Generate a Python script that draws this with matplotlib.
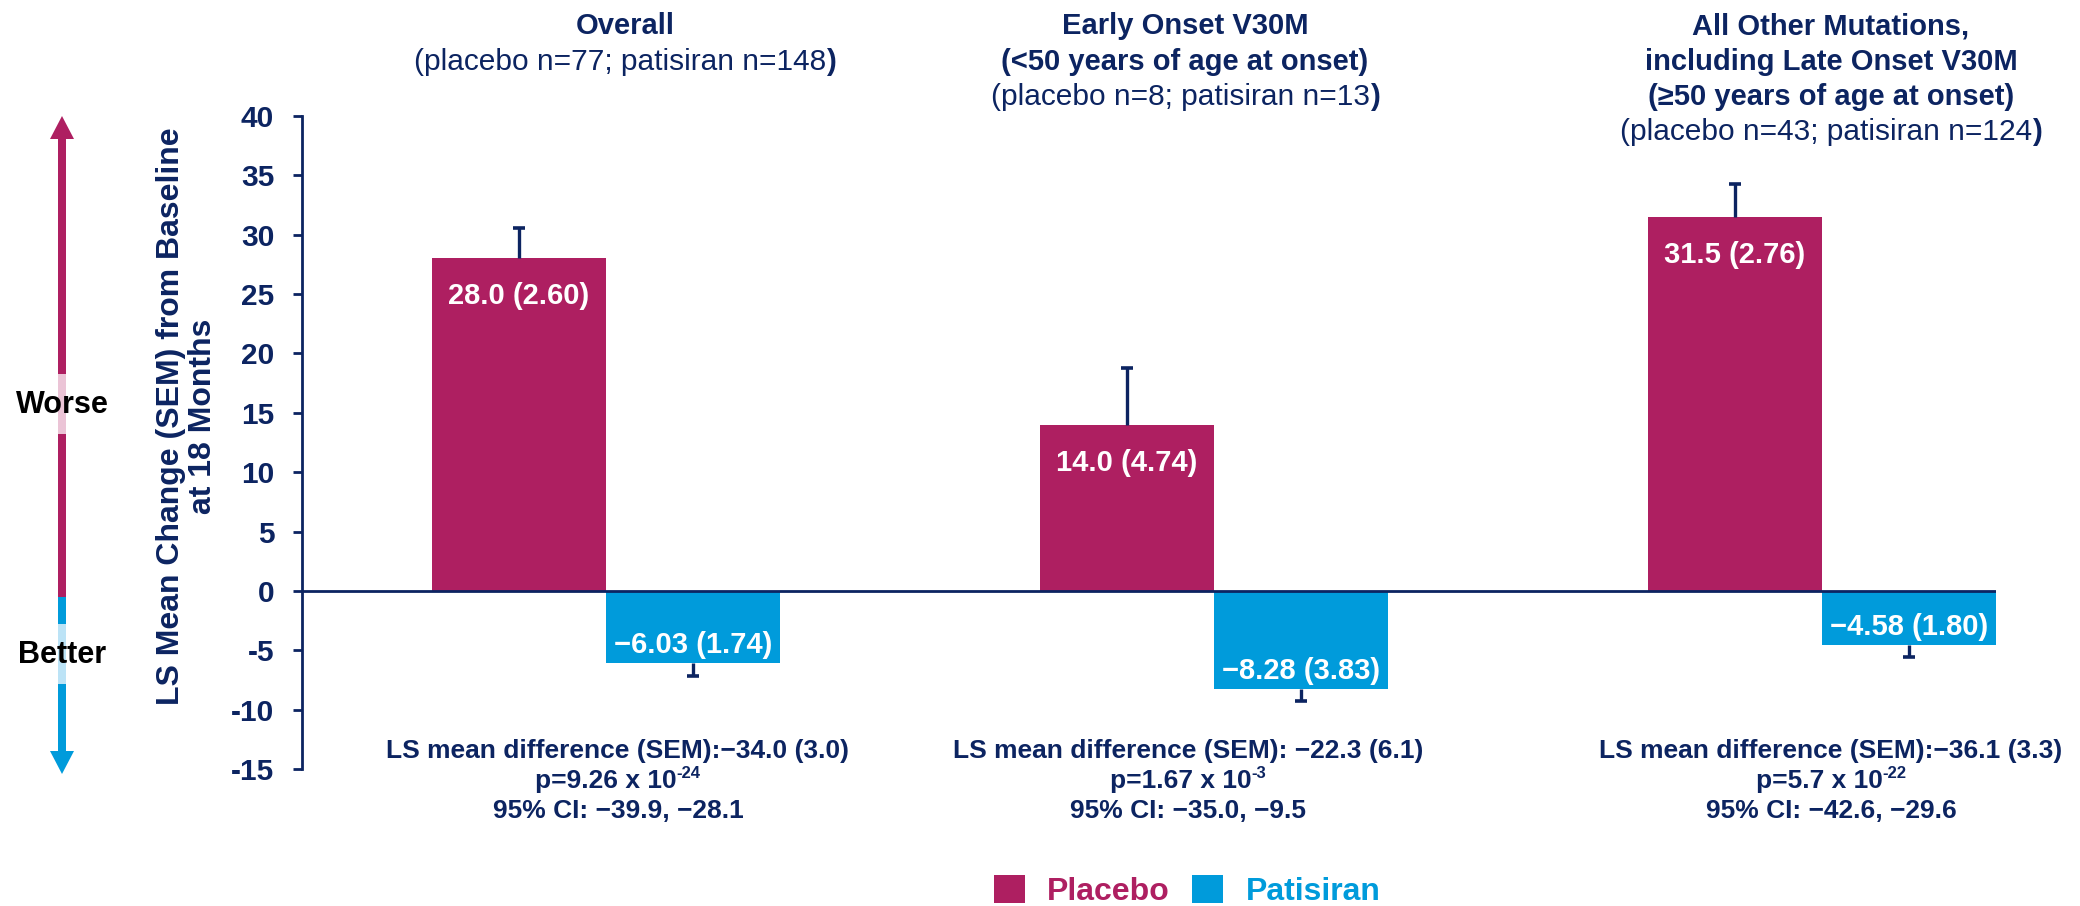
import numpy as np
import matplotlib
matplotlib.use('Agg')
import matplotlib.pyplot as plt
from matplotlib.patches import Polygon

plt.rcParams['font.family'] = ['Liberation Sans', 'DejaVu Sans']

# ---------------- data ----------------
group_titles = [
    ['Overall'],
    ['Early Onset V30M', '(<50 years of age at onset)'],
    ['All Other Mutations,', 'including Late Onset V30M', '(\u226550 years of age at onset)'],
]
placebo_n = [77, 8, 43]
patisiran_n = [148, 13, 124]
placebo_mean = [28.0, 14.0, 31.5]
placebo_sem = [2.60, 4.74, 2.76]
patisiran_mean = [-6.03, -8.28, -4.58]
patisiran_sem = [1.74, 3.83, 1.80]
patisiran_whisker = [1.1, 1.0, 0.95]   # whisker length as drawn in the picture
ls_diff_text = ['LS mean difference (SEM):\u221234.0 (3.0)',
                'LS mean difference (SEM): \u221222.3 (6.1)',
                'LS mean difference (SEM):\u221236.1 (3.3)']
p_mantissa = ['9.26', '1.67', '5.7']
p_exponent = ['-24', '-3', '-22']
ci_text = ['95% CI: \u221239.9, \u221228.1', '95% CI: \u221235.0, \u22129.5', '95% CI: \u221242.6, \u221229.6']
yticks = [40, 35, 30, 25, 20, 15, 10, 5, 0, -5, -10, -15]
ytick_labels = ['40', '35', '30', '25', '20', '15', '10', '5', '0', '-5', '-10', '-15']
legend_labels = ['Placebo', 'Patisiran']
ylabel = 'LS Mean Change (SEM) from Baseline\nat 18 Months'

# ---------------- style ----------------
NAVY = '#0C2461'
MAG = '#AE1F61'
BLUE = '#009BDB'
LPINK = '#EBC4D6'
LBLUE = '#BCE3F6'
W, H = 2080, 906

fig = plt.figure(figsize=(W / 100, H / 100), dpi=100)
renderer = fig.canvas.get_renderer()


def fx(x):
    return x / W


def fy(y):
    return 1 - y / H


# overlay for the better/worse arrow
ov = fig.add_axes([0, 0, 1, 1])
ov.set_xlim(0, W)
ov.set_ylim(H, 0)
ov.axis('off')
AX_X = 62
lw_arrow = 8 * 0.72
ov.plot([AX_X, AX_X], [137, 597], color=MAG, lw=lw_arrow, solid_capstyle='butt')
ov.plot([AX_X, AX_X], [374, 434], color=LPINK, lw=lw_arrow, solid_capstyle='butt')
ov.plot([AX_X, AX_X], [597, 753], color=BLUE, lw=lw_arrow, solid_capstyle='butt')
ov.plot([AX_X, AX_X], [624, 684], color=LBLUE, lw=lw_arrow, solid_capstyle='butt')
ov.add_patch(Polygon([(AX_X - 12, 139), (AX_X + 12, 139), (AX_X, 116)], closed=True, color=MAG, lw=0))
ov.add_patch(Polygon([(AX_X - 12, 751), (AX_X + 12, 751), (AX_X, 774)], closed=True, color=BLUE, lw=0))
ov.text(AX_X, 405, 'Worse', ha='center', va='center', fontsize=22, fontweight='bold', color='black')
ov.text(AX_X, 655, 'Better', ha='center', va='center', fontsize=22, fontweight='bold', color='black')

# main axes
ax = fig.add_axes([fx(302), fy(769), (1996 - 302) / W, (769 - 116) / H])
x = np.arange(len(placebo_mean))
w = 0.2864
pm = np.array(placebo_mean)
ps = np.array(placebo_sem)
tm = np.array(patisiran_mean)
tw = np.array(patisiran_whisker)

b1 = ax.bar(x - w / 2, pm, w, color=MAG, zorder=2)
b2 = ax.bar(x + w / 2, tm, w, color=BLUE, zorder=2)

# error bars (one-sided)
ax.vlines(x - w / 2, pm, pm + ps, color=NAVY, lw=2.4, zorder=3)
ax.plot(x - w / 2, pm + ps, ls='none', marker='_', ms=8.8, mew=2.6, color=NAVY, zorder=3)
ax.vlines(x + w / 2, tm, tm - tw, color=NAVY, lw=2.4, zorder=3)
ax.plot(x + w / 2, tm - tw, ls='none', marker='_', ms=8.8, mew=2.6, color=NAVY, zorder=3)

ax.axhline(0, color=NAVY, lw=2.0, zorder=4)

ax.set_xlim(-0.5, x[-1] + w)
ax.set_ylim(-15, 40)
for s in ['top', 'right', 'bottom']:
    ax.spines[s].set_visible(False)
ax.spines['left'].set_color(NAVY)
ax.spines['left'].set_linewidth(2.0)
ax.set_xticks([])
ax.set_yticks(yticks)
ax.set_yticklabels(ytick_labels, fontsize=21.5, fontweight='bold', color=NAVY)
ax.tick_params(axis='y', direction='out', length=6.5, width=2.0, color=NAVY, pad=13.5)
ax.patch.set_visible(False)

# value labels
for xi, m, s in zip(x, placebo_mean, placebo_sem):
    ax.annotate(f'{m:.1f} ({s:.2f})', xy=(xi - w / 2, m), xytext=(0, -38 * 0.72),
                textcoords='offset points', ha='center', va='center',
                fontsize=21, fontweight='bold', color='white', zorder=5)
for xi, m, s in zip(x, patisiran_mean, patisiran_sem):
    ax.annotate(f'{m:.2f} ({s:.2f})'.replace('-', '\u2212'), xy=(xi + w / 2, m), xytext=(0, 18 * 0.72),
                textcoords='offset points', ha='center', va='center',
                fontsize=21, fontweight='bold', color='white', zorder=5)

# y label
fig.text(fx(187), fy(416), ylabel, rotation=90, ha='center', va='center', fontsize=23,
         fontweight='bold', color=NAVY, linespacing=1.1, multialignment='center')


def pieces_line(xc, yb, pieces):
    """Draw several text pieces next to each other, centered on xc (px), baseline yb (px)."""
    items = []
    total = 0
    for s, kw, dy in pieces:
        t = fig.text(0, 0, s, ha='left', va='baseline', color=kw.pop('color', NAVY), **kw)
        wd = t.get_window_extent(renderer).width
        items.append((t, dy, wd))
        total += wd
    xx = xc - total / 2
    for t, dy, wd in items:
        t.set_position((fx(xx), fy(yb - dy)))
        xx += wd


# group titles
title_x = [625, 1185, 1831]
line_y = [24, 60, 95, 130]
TFS = 21
SFS = 21.5
cap = TFS / 72 * 100 * 0.716
for gi in range(3):
    lines = group_titles[gi]
    for li, s in enumerate(lines):
        pieces_line(title_x[gi], line_y[li] + cap / 2, [(s, dict(fontsize=TFS, fontweight='bold'), 0)])
    sub = f'(placebo n={placebo_n[gi]}; patisiran n={patisiran_n[gi]}'
    pieces_line(title_x[gi], line_y[len(lines)] + cap / 2,
                [(sub, dict(fontsize=SFS, fontweight='normal'), 0),
                 (')', dict(fontsize=SFS, fontweight='bold'), 0)])

# bottom annotations
ann_x = [618, 1188, 1831]
ann_y = [749, 779, 809]
AFS = 19
acap = AFS / 72 * 100 * 0.716
for gi in range(3):
    pieces_line(ann_x[gi], ann_y[0] + acap / 2, [(ls_diff_text[gi], dict(fontsize=AFS, fontweight='bold'), 0)])
    pieces_line(ann_x[gi], ann_y[1] + acap / 2,
                [(f'p={p_mantissa[gi]} x 10', dict(fontsize=AFS, fontweight='bold'), 0),
                 (p_exponent[gi], dict(fontsize=12, fontweight='bold'), 10)])
    pieces_line(ann_x[gi], ann_y[2] + acap / 2, [(ci_text[gi], dict(fontsize=AFS, fontweight='bold'), 0)])

# legend
leg = fig.legend(handles=[b1, b2], labels=legend_labels, loc='center',
                 bbox_to_anchor=(fx(1187), fy(891)), ncol=2, frameon=False,
                 prop=dict(weight='bold', size=23), labelcolor=[MAG, BLUE],
                 handlelength=0.97, handleheight=0.97, handletextpad=0.7,
                 columnspacing=0.7, borderpad=0, borderaxespad=0)

fig.savefig('out.png', dpi=100, facecolor='white')
